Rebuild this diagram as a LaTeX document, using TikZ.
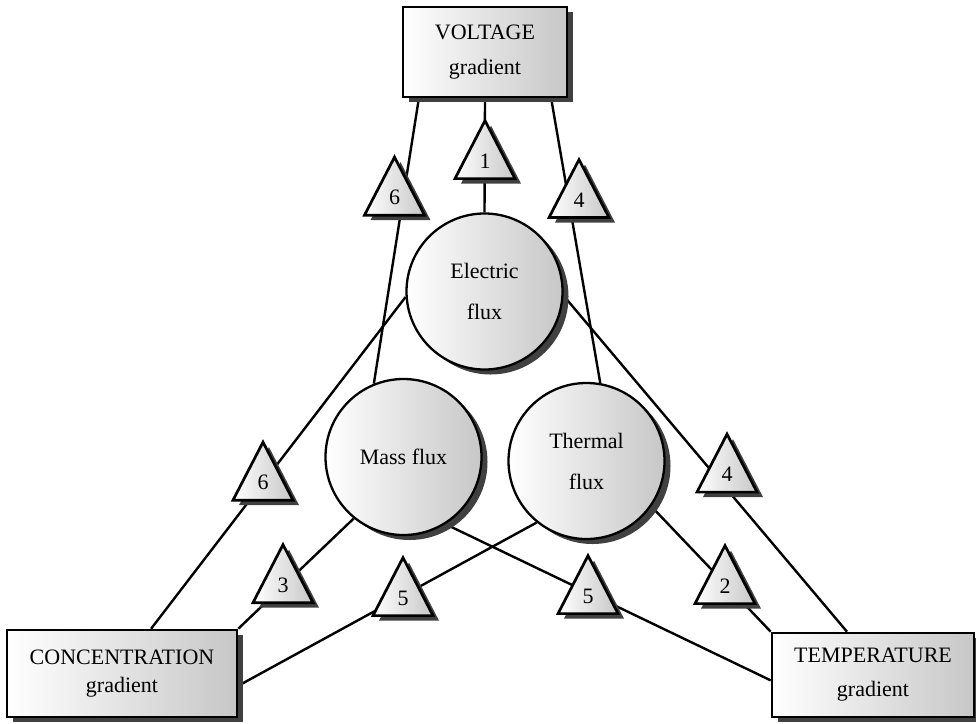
\documentclass[tikz,border=0pt]{standalone}
\usepackage{fontspec}
\setmainfont{Liberation Serif}
\usetikzlibrary{shapes.geometric,shadows}
\pgfdeclarelayer{bg}
\pgfsetlayers{bg,main}

\tikzset{
  every node/.style={font=\fontsize{22}{26}\selectfont},
  shade3d/.style={left color=white, right color=black!22, draw=black,
    drop shadow={shadow xshift=6pt, shadow yshift=-5pt, fill=black!75, opacity=1}},
  gradbox/.style={shade3d, rectangle, line width=2.6pt, inner sep=0pt, align=center},
  fluxcircle/.style={shade3d, circle, line width=2.3pt, minimum size=156pt, inner sep=0pt, align=center},
  tri/.style={shade3d, isosceles triangle, isosceles triangle stretches,
    shape border rotate=90, minimum width=60pt, minimum height=58pt,
    inner sep=0pt, line width=2.7pt},
  link/.style={line width=2.4pt},
}

\begin{document}
\begin{tikzpicture}[x=1pt,y=-1pt]
\useasboundingbox (0,0) rectangle (976,723);

% gradient boxes
\node[gradbox, minimum width=164pt, minimum height=90pt] (volt) at (485,52) {VOLTAGE\\[9pt]gradient};
\node[gradbox, minimum width=230pt, minimum height=87pt] (conc) at (122,673.5) {CONCENTRATION\\[2pt]gradient};
\node[gradbox, minimum width=202pt, minimum height=84pt] (temp) at (873,675) {TEMPERATURE\\[8pt]gradient};

% flux circles
\node[fluxcircle] (elec) at (484.5,291.5) {Electric\\[15pt]flux};
\node[fluxcircle] (mass) at (403.5,457) {Mass flux};
\node[fluxcircle] (therm) at (586.5,461) {Thermal\\[15pt]flux};

% coupling triangles, placed by the number they carry
\node[tri] (t1) at (485,161) {1};
\node[tri] (t6a) at (394.5,197.5) {6};
\node[tri] (t4a) at (579,200) {4};
\node[tri] (t6b) at (263,482.5) {6};
\node[tri] (t4b) at (727,474.5) {4};
\node[tri] (t3) at (283,585) {3};
\node[tri] (t5a) at (403,598) {5};
\node[tri] (t5b) at (588,596) {5};
\node[tri] (t2) at (725,586) {2};

% connectors, drawn beneath the shapes
\begin{pgfonlayer}{bg}
\draw[link] (volt.south) -- (elec.north);
\draw[link] (volt.215.5) -- (mass.112);
\draw[link] (volt.325) -- (therm.80);
\draw[link] (elec.184) -- (conc.57);
\draw[link] (elec.357) -- (temp.121);
\draw[link] (mass.231.6) -- (conc.north east);
\draw[link] (mass.302) -- (temp.183);
\draw[link] (therm.231) -- (conc.354);
\draw[link] (therm.325.5) -- (temp.north west);
\end{pgfonlayer}
\end{tikzpicture}
\end{document}
